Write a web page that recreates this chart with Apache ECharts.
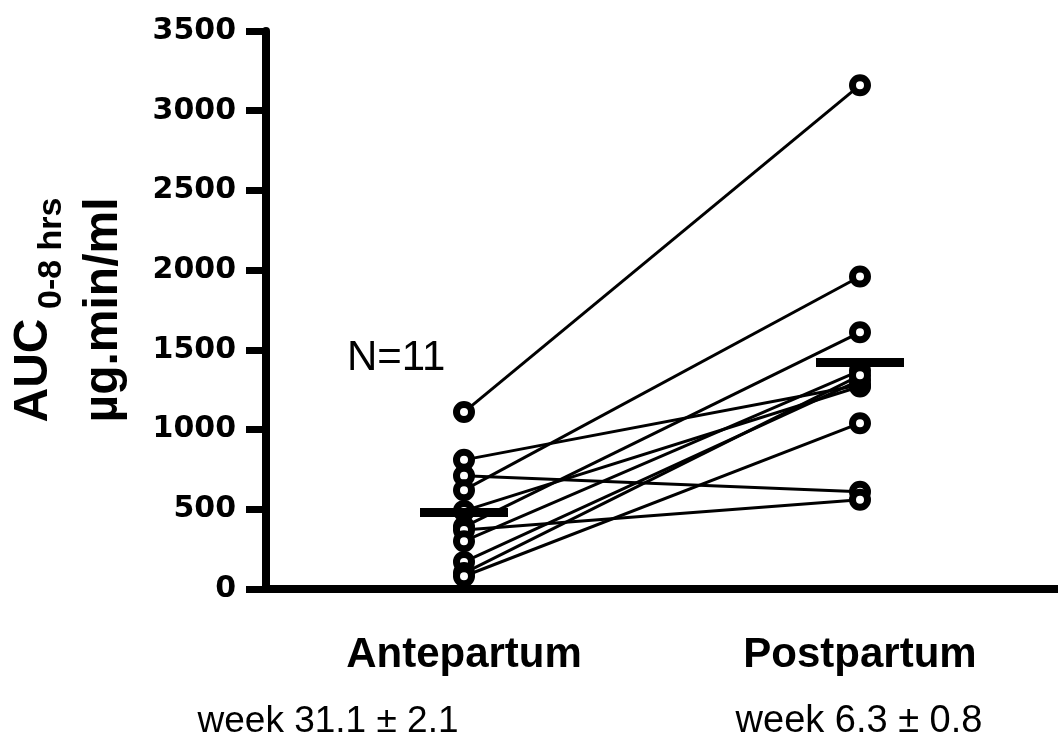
<!DOCTYPE html>
<html>
<head>
<meta charset="utf-8">
<script src="https://cdn.jsdelivr.net/npm/echarts@6/dist/echarts.min.js"></script>
<style>
  html, body { margin: 0; padding: 0; background: #fff; }
  #chart { width: 1058px; height: 742px; }
</style>
</head>
<body>
<div id="chart"></div>
<script>
// groups on the x axis
var groups = ['Antepartum', 'Postpartum'];
var weekLabels = ['week 31.1 \u00b1 2.1', 'week 6.3 \u00b1 0.8'];
// AUC per subject (ug.min/ml), same order in both arrays = paired lines
var antepartum = [1110, 810, 710, 620, 490, 390, 370, 300, 170, 100, 80];
var postpartum = [3160, 1280, 610, 1960, 1270, 1610, 560, 1370, 1310, 1340, 1040];
// group means (horizontal bars)
var groupMeans = [480, 1420];
var yMin = 0, yMax = 3500, yStep = 500;

var ARIAL = 'Liberation Sans, Arial, sans-serif';

var myChart = echarts.init(document.getElementById('chart'));

var series = [];
for (var i = 0; i < antepartum.length; i++) {
  series.push({
    type: 'line',
    data: [antepartum[i], postpartum[i]],
    symbol: 'none',
    silent: true,
    z: 2,
    lineStyle: { color: '#000', width: 3 }
  });
}

var circles = [];
for (var i = 0; i < antepartum.length; i++) {
  circles.push([0, antepartum[i]]);
  circles.push([1, postpartum[i]]);
}
series.push({
  type: 'scatter',
  data: circles,
  symbol: 'circle',
  symbolSize: 15,
  z: 3,
  itemStyle: { color: '#fff', borderColor: '#000', borderWidth: 7, opacity: 1 }
});

series.push({
  type: 'scatter',
  data: groupMeans.map(function (m, k) { return [k, m]; }),
  symbol: 'rect',
  symbolSize: [88, 9],
  z: 4,
  itemStyle: { color: '#000', opacity: 1 }
});

var option = {
  animation: false,
  backgroundColor: '#fff',
  grid: { left: 266, right: 0, top: 31, bottom: 153 },
  xAxis: {
    type: 'category',
    data: groups,
    axisLine: { lineStyle: { color: '#000', width: 8 } },
    axisTick: { alignWithLabel: true, length: 16, lineStyle: { color: '#000', width: 6 } },
    axisLabel: {
      color: '#000', fontFamily: ARIAL, fontWeight: 'bold', fontSize: 42, margin: 45
    },
    splitLine: { show: false }
  },
  yAxis: {
    type: 'value',
    min: yMin,
    max: yMax,
    interval: yStep,
    axisLine: { show: true, lineStyle: { color: '#000', width: 8 } },
    axisTick: { show: true, length: 20, lineStyle: { color: '#000', width: 7 } },
    axisLabel: {
      color: '#000', fontFamily: 'DejaVu Sans', fontWeight: 'bold', fontSize: 30, margin: 30,
      formatter: function (v) { return String(v); }
    },
    splitLine: { show: false },
    name: '{a|AUC}{b| 0-8 hrs}\n{a|\u00b5g.min/ml}',
    nameLocation: 'middle',
    nameRotate: 90,
    nameGap: 127,
    nameTextStyle: {
      rich: {
        a: { fontFamily: ARIAL, fontWeight: 'bold', fontSize: 48, lineHeight: 70, color: '#000' },
        b: { fontFamily: ARIAL, fontWeight: 'bold', fontSize: 34, lineHeight: 70, color: '#000', verticalAlign: 'bottom' }
      }
    }
  },
  graphic: [
    {
      type: 'text', left: 347, top: 337,
      style: { text: 'N=11', fontFamily: ARIAL, fontSize: 42, fill: '#000' }
    },
    {
      type: 'text', x: 328, y: 722,
      style: { text: weekLabels[0], fontFamily: ARIAL, fontSize: 37, fill: '#000', align: 'center', verticalAlign: 'middle' }
    },
    {
      type: 'text', x: 859, y: 722,
      style: { text: weekLabels[1], fontFamily: ARIAL, fontSize: 38, fill: '#000', align: 'center', verticalAlign: 'middle' }
    }
  ],
  series: series
};
myChart.setOption(option);
</script>
</body>
</html>
